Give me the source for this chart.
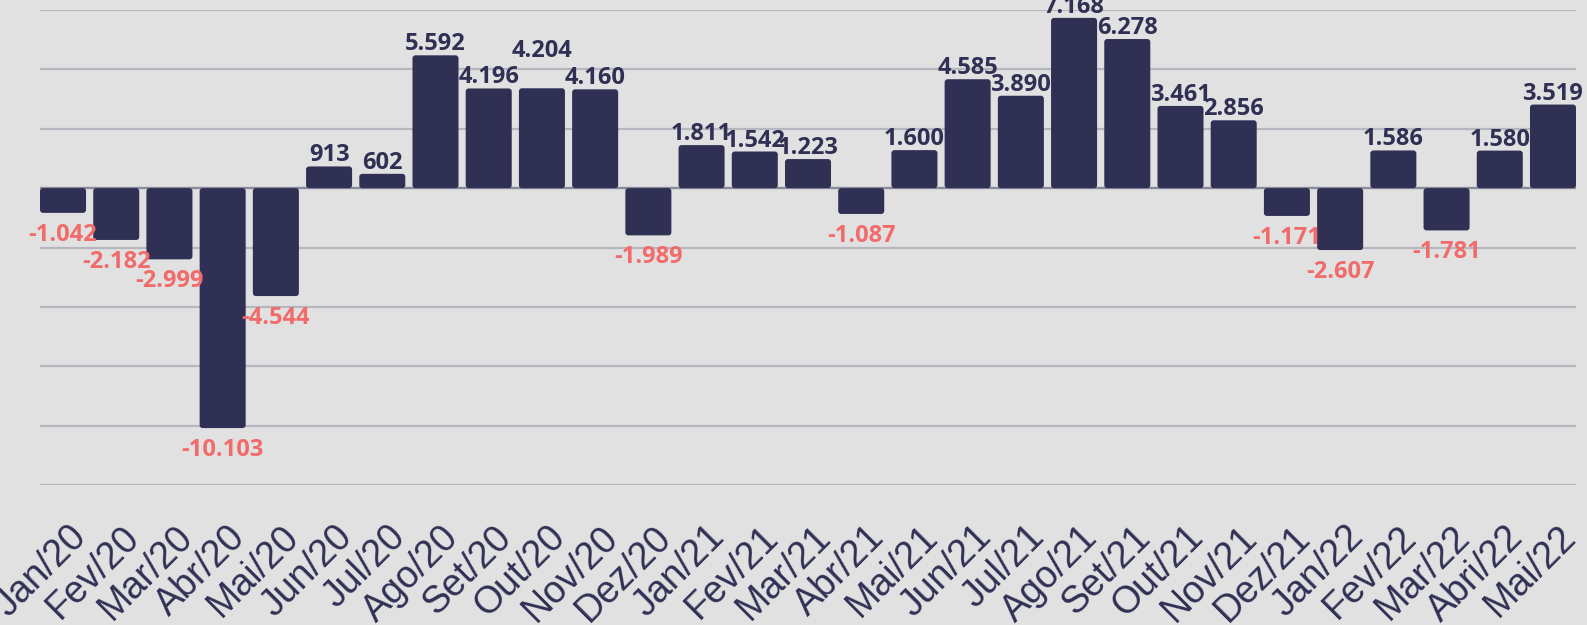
#!/usr/bin/env python3
import numpy as np, pandas as pd, seaborn as sns
import matplotlib
matplotlib.use("Agg")
import matplotlib.pyplot as plt
from matplotlib.patches import FancyBboxPatch
from matplotlib.transforms import ScaledTranslation, offset_copy

# saldo mensal
meses = ["Jan/20", "Fev/20", "Mar/20", "Abr/20", "Mai/20", "Jun/20", "Jul/20", "Ago/20",
         "Set/20", "Out/20", "Nov/20", "Dez/20", "Jan/21", "Fev/21", "Mar/21", "Abr/21",
         "Mai/21", "Jun/21", "Jul/21", "Ago/21", "Set/21", "Out/21", "Nov/21", "Dez/21",
         "Jan/22", "Fev/22", "Mar/22", "Abri/22", "Mai/22"]
saldo = [-1042, -2182, -2999, -10103, -4544, 913, 602, 5592,
         4196, 4204, 4160, -1989, 1811, 1542, 1223, -1087,
         1600, 4585, 3890, 7168, 6278, 3461, 2856, -1171,
         -2607, 1586, -1781, 1580, 3519]

bg = "#e1e1e1"
navy = "#2f3054"
red = "#f26b6b"
grid_c = "#b6b6be"

df = pd.DataFrame({"Mes": meses, "Saldo": saldo})

sns.set_style("white")
plt.rcParams['font.family'] = ['Open Sans', 'DejaVu Sans']

fig = plt.figure(figsize=(15.87, 6.25), dpi=100, facecolor=bg)
ax = fig.add_axes([40/1587, 1-485/625, 1536/1587, 475/625])
ax.set_facecolor(bg)

width = 0.865
sns.barplot(data=df, x="Mes", y="Saldo", color=navy, width=width, saturation=1, ax=ax, zorder=3)

ax.set_xlim(-width/2, len(meses)-1+width/2)
ax.set_ylim(-12500, 7500)
ax.set_yticks(np.arange(-12500, 7501, 2500))
ax.yaxis.grid(True, color=grid_c, lw=1.6, zorder=0)
ax.tick_params(axis='y', left=False, labelleft=False)
ax.axhline(0, color="#8a8a9a", lw=1.6, zorder=2)
for s in ax.spines.values():
    s.set_visible(False)
ax.set_xlabel("")
ax.set_ylabel("")

# rounded bars
px_x = (ax.get_xlim()[1]-ax.get_xlim()[0]) / 1536
px_y = (ax.get_ylim()[1]-ax.get_ylim()[0]) / 475
for p in list(ax.patches):
    x, y, w, h = p.get_x(), p.get_y(), p.get_width(), p.get_height()
    y0, y1 = min(y, y+h), max(y, y+h)
    fb = FancyBboxPatch((x, y0), w, y1-y0,
                        boxstyle="round,pad=0,rounding_size=%f" % (3*px_x),
                        mutation_aspect=px_y/px_x, fc=navy, ec="none", zorder=3)
    p.remove()
    ax.add_patch(fb)

# value labels
prev_lift = False
for i, v in enumerate(saldo):
    txt = f"{v:,}".replace(",", ".")
    lift = 0
    if i > 0 and v > 0 and saldo[i-1] > 0 and abs(v - saldo[i-1]) < 100 and not prev_lift:
        lift = 26
    prev_lift = lift > 0
    if v >= 0:
        tr = offset_copy(ax.transData, fig=fig, x=0, y=(5+lift)/100, units='inches')
        ax.text(i, v, txt, ha='center', va='baseline', color=navy, fontsize=17,
                fontweight='bold', transform=tr, clip_on=False, zorder=4)
    else:
        tr = offset_copy(ax.transData, fig=fig, x=0, y=-10/100, units='inches')
        ax.text(i, v, txt, ha='center', va='top', color=red, fontsize=17,
                fontweight='bold', transform=tr, clip_on=False, zorder=4)

# tick labels
ax.tick_params(axis='x', bottom=False, pad=21, labelsize=27, labelcolor=navy)
ax.set_xticks(range(len(meses)))
ax.set_xticklabels(meses, rotation=45, ha='right', va='top', rotation_mode='anchor',
                   family=['Liberation Sans', 'DejaVu Sans'])
for lab in ax.get_xticklabels():
    lab.set_transform(lab.get_transform() + ScaledTranslation(0.05, 0, fig.dpi_scale_trans))

fig.savefig("out.png", dpi=100, facecolor=bg)
